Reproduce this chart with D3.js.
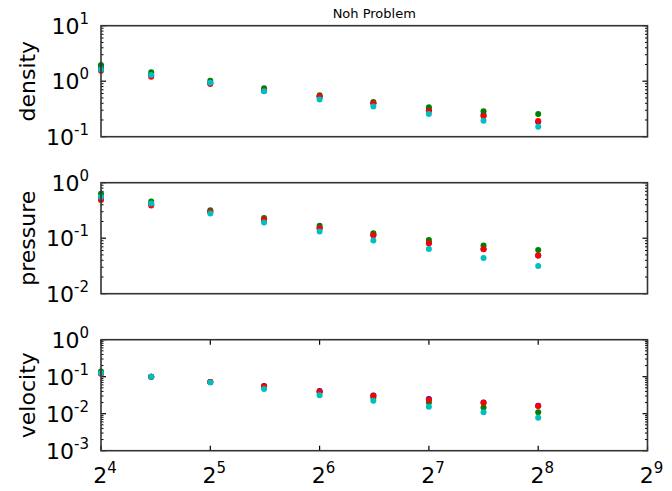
<!DOCTYPE html>
<html>
<head>
<style>
  body { margin: 0; background: #fff; }
  text { font-family: "DejaVu Sans", sans-serif; }
</style>
</head>
<body>
<svg width="672" height="491"></svg>
<script src="https://d3js.org/d3.v7.min.js"></script>
<script>
// resolution (number of zones)
var zones = [16, 22, 32, 45, 64, 90, 128, 181, 256];

// error norms, one array per method
var densityBlue  = [1.71, 1.29, 0.92, 0.67, 0.52, 0.40, 0.30, 0.246, 0.185];
var densityGreen = [1.96, 1.45, 1.02, 0.75, 0.56, 0.42, 0.34, 0.287, 0.256];
var densityRed   = [1.55, 1.20, 0.89, 0.67, 0.53, 0.40, 0.29, 0.233, 0.192];
var densityCyan  = [1.62, 1.30, 0.94, 0.66, 0.47, 0.35, 0.257, 0.194, 0.151];

var pressureBlue  = [0.52, 0.41, 0.30, 0.217, 0.152, 0.114, 0.082, 0.064, 0.049];
var pressureGreen = [0.63, 0.46, 0.32, 0.232, 0.167, 0.123, 0.093, 0.074, 0.061];
var pressureRed   = [0.49, 0.39, 0.30, 0.217, 0.151, 0.113, 0.081, 0.0635, 0.049];
var pressureCyan  = [0.55, 0.42, 0.28, 0.191, 0.132, 0.091, 0.064, 0.044, 0.0315];

var velocityBlue  = [0.125, 0.1, 0.072, 0.056, 0.041, 0.031, 0.025, 0.020, 0.0165];
var velocityGreen = [0.139, 0.1, 0.072, 0.054, 0.038, 0.027, 0.0202, 0.0148, 0.0109];
var velocityRed   = [0.12, 0.1, 0.072, 0.055, 0.040, 0.0307, 0.024, 0.0198, 0.0161];
var velocityCyan  = [0.125, 0.1, 0.070, 0.0465, 0.0316, 0.0225, 0.0154, 0.0109, 0.0078];

var xTicks = [16, 32, 64, 128, 256, 512];
var colors = ["#0000ff", "#008000", "#ff0000", "#00bfbf"];

var panels = [
  { name: "density",  exps: [-1, 0, 1],     series: [densityBlue, densityGreen, densityRed, densityCyan] },
  { name: "pressure", exps: [-2, -1, 0],    series: [pressureBlue, pressureGreen, pressureRed, pressureCyan] },
  { name: "velocity", exps: [-3, -2, -1, 0], series: [velocityBlue, velocityGreen, velocityRed, velocityCyan] }
];

var left = 101, width = 546.5, height = 111, top0 = 25.7, step = 157;

var svg = d3.select("svg");

var x = d3.scaleLog().base(2)
  .domain([16, 512])
  .range([left, left + width]);

svg.append("text")
  .attr("x", left + width / 2)
  .attr("y", 18)
  .attr("text-anchor", "middle")
  .attr("font-size", 13)
  .text("Noh Problem");

function powLabel(sel, base, exp, big, small) {
  sel.append("tspan").attr("font-size", big).text(base);
  sel.append("tspan").attr("font-size", small).attr("dy", -big * 0.45).text(exp);
}

panels.forEach(function(p, k) {
  var top = top0 + k * step;
  var lo = Math.pow(10, p.exps[0]), hi = Math.pow(10, p.exps[p.exps.length - 1]);
  var y = d3.scaleLog().domain([lo, hi]).range([top + height, top]);
  var g = svg.append("g");

  var minor = y.ticks().filter(function(v) {
    var e = Math.log10(v);
    return Math.abs(e - Math.round(e)) > 1e-6;
  });

  // y ticks on both sides, pointing in
  [left, left + width].forEach(function(sx, side) {
    var dir = side === 0 ? 1 : -1;
    g.selectAll(null).data(minor).enter().append("line")
      .attr("x1", sx).attr("x2", sx + dir * 2.5)
      .attr("y1", function(d) { return y(d); })
      .attr("y2", function(d) { return y(d); })
      .attr("stroke", "#000").attr("stroke-width", 1);
    g.selectAll(null).data(p.exps).enter().append("line")
      .attr("x1", sx).attr("x2", sx + dir * 5)
      .attr("y1", function(d) { return y(Math.pow(10, d)); })
      .attr("y2", function(d) { return y(Math.pow(10, d)); })
      .attr("stroke", "#000").attr("stroke-width", 1.2);
  });

  // y tick labels
  p.exps.forEach(function(e) {
    var t = g.append("text")
      .attr("x", 89)
      .attr("y", y(Math.pow(10, e)) + 8)
      .attr("text-anchor", "end");
    powLabel(t, "10", e, 22, 15);
  });

  g.append("text")
    .attr("transform", "translate(35," + (top + height / 2) + ") rotate(-90)")
    .attr("text-anchor", "middle")
    .attr("font-size", 22)
    .text(p.name);

  // x ticks only on the bottom panel
  if (k === panels.length - 1) {
    g.selectAll(null).data(xTicks).enter().append("line")
      .attr("x1", function(d) { return x(d); })
      .attr("x2", function(d) { return x(d); })
      .attr("y1", top + height).attr("y2", top + height - 5)
      .attr("stroke", "#000").attr("stroke-width", 1.2);
    g.selectAll(null).data(xTicks).enter().append("line")
      .attr("x1", function(d) { return x(d); })
      .attr("x2", function(d) { return x(d); })
      .attr("y1", top).attr("y2", top + 5)
      .attr("stroke", "#000").attr("stroke-width", 1.2);
    xTicks.forEach(function(v) {
      var t = g.append("text")
        .attr("x", x(v) + 4)
        .attr("y", top + height + 32)
        .attr("text-anchor", "middle");
      powLabel(t, "2", Math.round(Math.log2(v)), 22, 15);
    });
  }

  // markers
  p.series.forEach(function(s, i) {
    g.selectAll(null).data(s).enter().append("circle")
      .attr("cx", function(d, j) { return x(zones[j]); })
      .attr("cy", function(d) { return y(d); })
      .attr("r", 3)
      .attr("fill", colors[i]);
  });

  g.append("rect")
    .attr("x", left).attr("y", top)
    .attr("width", width).attr("height", height)
    .attr("fill", "none")
    .attr("stroke", "#333").attr("stroke-width", 1.6);
});
</script>
</body>
</html>
